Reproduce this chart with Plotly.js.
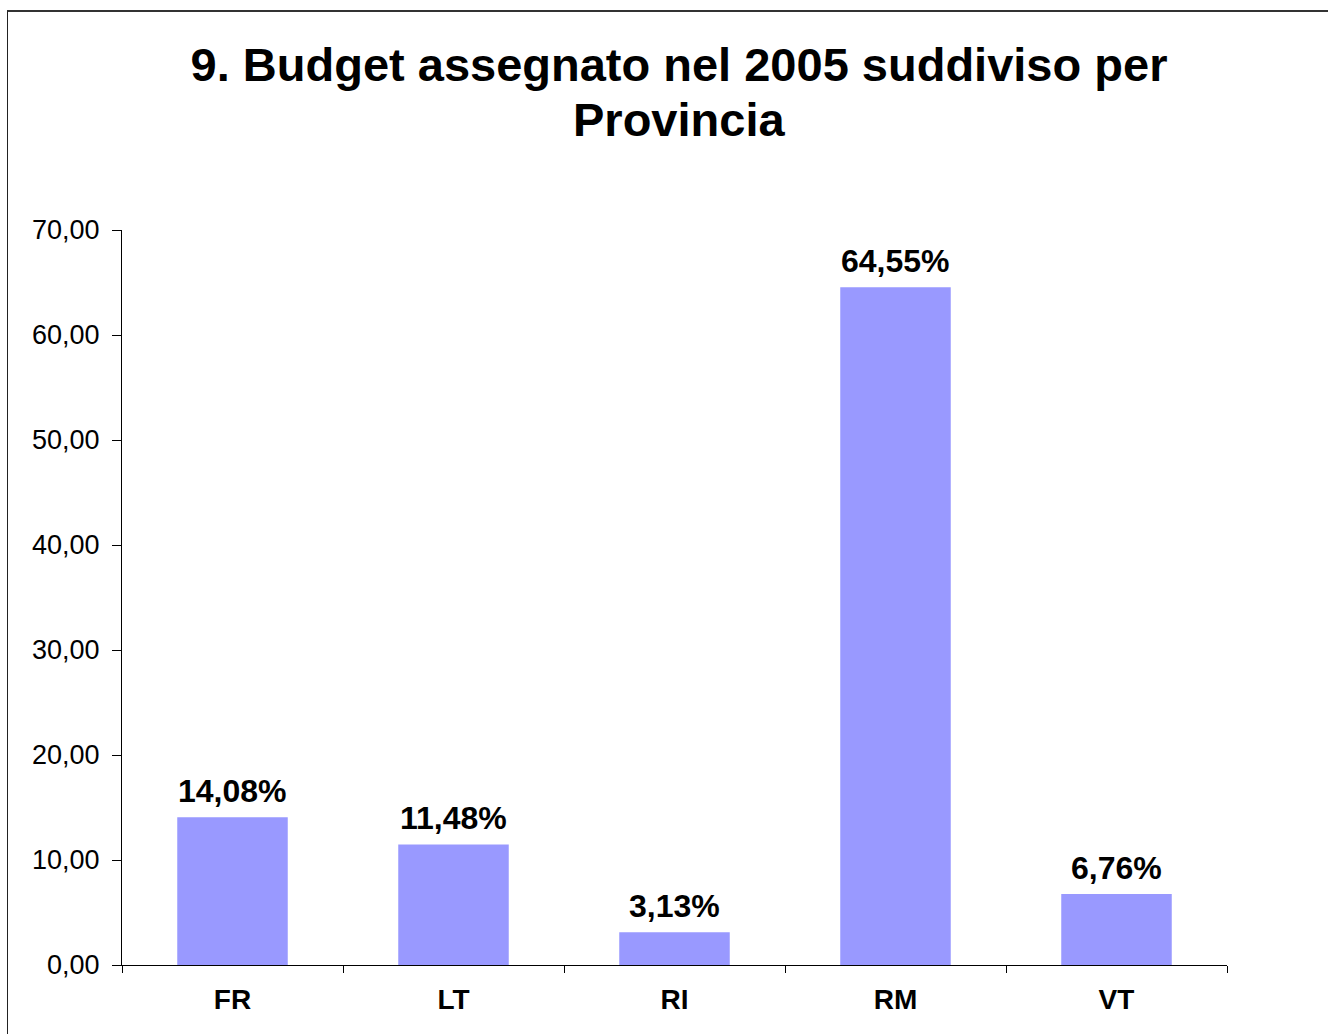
<!DOCTYPE html>
<html>
<head>
<meta charset="utf-8">
<script src="https://cdn.plot.ly/plotly-3.0.1.min.js"></script>
<style>
  html, body { margin: 0; padding: 0; background: #fff; }
  #wrap { position: relative; width: 1328px; height: 1034px; overflow: hidden; }
  #chart { width: 1328px; height: 1034px; }
  #frame { position: absolute; left: 7px; top: 10px; width: 1400px; height: 1100px;
           border-left: 1.5px solid #222; border-top: 2px solid #333; pointer-events: none; }
</style>
</head>
<body>
<div id="wrap">
  <div id="chart"></div>
  <div id="frame"></div>
</div>
<script>
const province = ["FR", "LT", "RI", "RM", "VT"];
const budgetPct = [14.08, 11.48, 3.13, 64.55, 6.76];
const yTickValues = [0, 10, 20, 30, 40, 50, 60, 70];
const titleLine1 = "9. Budget assegnato nel 2005 suddiviso per";
const titleLine2 = "Provincia";

const FONT = "Liberation Sans, Arial, sans-serif";

const trace = {
  type: "bar",
  x: province,
  y: budgetPct,
  marker: { color: "#9999FF", line: { width: 0 } },
  hoverinfo: "skip"
};

const valueLabels = province.map((p, i) => ({
  x: p,
  y: budgetPct[i],
  xref: "x",
  yref: "y",
  text: "<b>" + budgetPct[i].toFixed(2).replace(".", ",") + "%</b>",
  showarrow: false,
  xanchor: "center",
  yanchor: "bottom",
  yshift: 6,
  font: { family: FONT, size: 32, color: "#000" }
}));

const subtitle = {
  x: (679 - 122) / 1105,
  y: (965 - 119.5) / 735,
  xref: "paper",
  yref: "paper",
  text: "<b>" + titleLine2 + "</b>",
  showarrow: false,
  xanchor: "center",
  yanchor: "middle",
  font: { family: FONT, size: 47, color: "#000" }
};

const layout = {
  width: 1328,
  height: 1034,
  margin: { l: 122, r: 101, t: 230, b: 69 },
  paper_bgcolor: "#fff",
  plot_bgcolor: "#fff",
  separators: ",.",
  bargap: 0.5,
  showlegend: false,
  font: { family: FONT, color: "#000" },
  title: {
    text: "<b>" + titleLine1 + "</b>",
    font: { family: FONT, size: 47, color: "#000" },
    x: 679 / 1328,
    xanchor: "center",
    xref: "container",
    y: 1 - 48 / 1034,
    yanchor: "top",
    yref: "container"
  },
  annotations: valueLabels.concat([subtitle]),
  xaxis: {
    type: "category",
    showline: true,
    linecolor: "#000",
    linewidth: 1,
    ticks: "outside",
    tickson: "boundaries",
    ticklen: 7,
    tickcolor: "#000",
    tickfont: { family: FONT, size: 28, color: "#000", weight: "bold" },
    ticklabelstandoff: 9,
    showgrid: false,
    zeroline: false
  },
  yaxis: {
    range: [0, 70],
    tickvals: yTickValues,
    tickformat: ".2f",
    showline: true,
    linecolor: "#000",
    linewidth: 1,
    ticks: "outside",
    ticklen: 9,
    tickcolor: "#000",
    tickfont: { family: FONT, size: 27, color: "#000" },
    ticklabelstandoff: 7,
    showgrid: false,
    zeroline: false
  }
};

Plotly.newPlot("chart", [trace], layout, { staticPlot: true, displayModeBar: false });
</script>
</body>
</html>
